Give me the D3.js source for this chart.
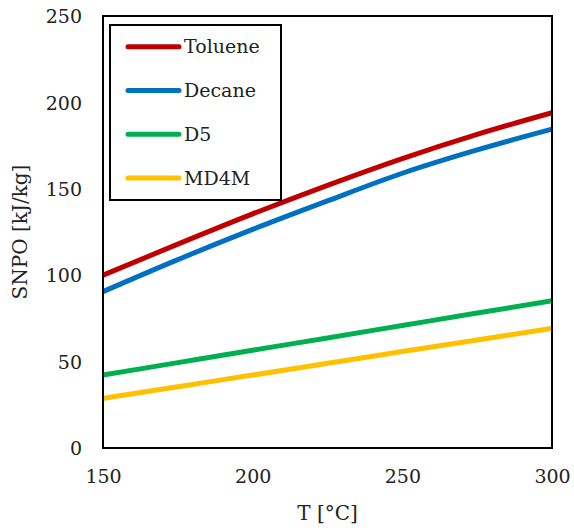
<!DOCTYPE html>
<html><head><meta charset="utf-8">
<script src="https://cdn.jsdelivr.net/npm/d3@7"></script>
<style>body{margin:0;background:#fff;} svg{display:block;}</style>
</head><body>
<svg id="c" width="574" height="531"></svg>
<script>
const temps = [150, 175, 200, 225, 250, 275, 300];
const toluene = [100, 118, 135.5, 152, 167.5, 181.5, 194];
const decane = [90.5, 109, 126.5, 143, 159, 172.5, 184.5];
const d5 = [42.2, 49.4, 56.6, 63.7, 70.9, 78.1, 85.2];
const md4m = [28.7, 35.5, 42.2, 49, 55.8, 62.5, 69.3];
const seriesNames = ["Toluene", "Decane", "D5", "MD4M"];
const seriesColors = ["#C00000", "#0070C0", "#00B050", "#FFC000"];
const xTicks = [150, 200, 250, 300];
const yTicks = [0, 50, 100, 150, 200, 250];

const allSeries = [toluene, decane, d5, md4m];
const svg = d3.select("#c");
const L = 103, R = 552, T = 16, B = 448;
const x = d3.scaleLinear().domain([150, 300]).range([L, R]);
const y = d3.scaleLinear().domain([0, 250]).range([B, T]);
const font = "DejaVu Serif";

const line = d3.line().x(d => x(d[0])).y(d => y(d[1])).curve(d3.curveMonotoneX);
allSeries.forEach((s, i) => {
  svg.append("path").datum(temps.map((t, j) => [t, s[j]]))
    .attr("d", line).attr("fill", "none")
    .attr("stroke", seriesColors[i]).attr("stroke-width", 5);
});

svg.append("rect").attr("x", L).attr("y", T).attr("width", R - L).attr("height", B - T)
  .attr("fill", "none").attr("stroke", "#000").attr("stroke-width", 2);

const xAxis = svg.append("g").attr("transform", `translate(0,${B})`)
  .call(d3.axisBottom(x).tickValues(xTicks).tickSize(0).tickPadding(0).tickFormat(d3.format("d")));
xAxis.select(".domain").remove();
xAxis.selectAll("text").attr("font-family", font).attr("font-size", 19).attr("fill", "#222")
  .attr("y", 35).attr("dy", 0);

const yAxis = svg.append("g").attr("transform", `translate(${L},0)`)
  .call(d3.axisLeft(y).tickValues(yTicks).tickSize(0).tickPadding(0).tickFormat(d3.format("d")));
yAxis.select(".domain").remove();
yAxis.selectAll("text").attr("font-family", font).attr("font-size", 19).attr("fill", "#222")
  .attr("x", -21).attr("dy", "0.35em");

svg.append("text").attr("x", (L + R) / 2).attr("y", 520).attr("text-anchor", "middle")
  .attr("font-family", font).attr("font-size", 20).attr("fill", "#222").text("T [°C]");
svg.append("text").attr("transform", `translate(27,${(T + B) / 2}) rotate(-90)`)
  .attr("text-anchor", "middle").attr("font-family", font).attr("font-size", 20).attr("fill", "#222")
  .text("SNPO [kJ/kg]");

// legend
const lg = svg.append("g");
lg.append("rect").attr("x", 110).attr("y", 25).attr("width", 171).attr("height", 175)
  .attr("fill", "#fff").attr("stroke", "#000").attr("stroke-width", 2);
seriesNames.forEach((n, i) => {
  const yy = 46.7 + i * 43.8;
  lg.append("line").attr("x1", 128).attr("x2", 179).attr("y1", yy).attr("y2", yy)
    .attr("stroke", seriesColors[i]).attr("stroke-width", 5).attr("stroke-linecap", "round");
  lg.append("text").attr("x", 184).attr("y", yy).attr("dy", "0.35em")
    .attr("font-family", font).attr("font-size", 19).attr("fill", "#222").text(n);
});
</script>
</body></html>
